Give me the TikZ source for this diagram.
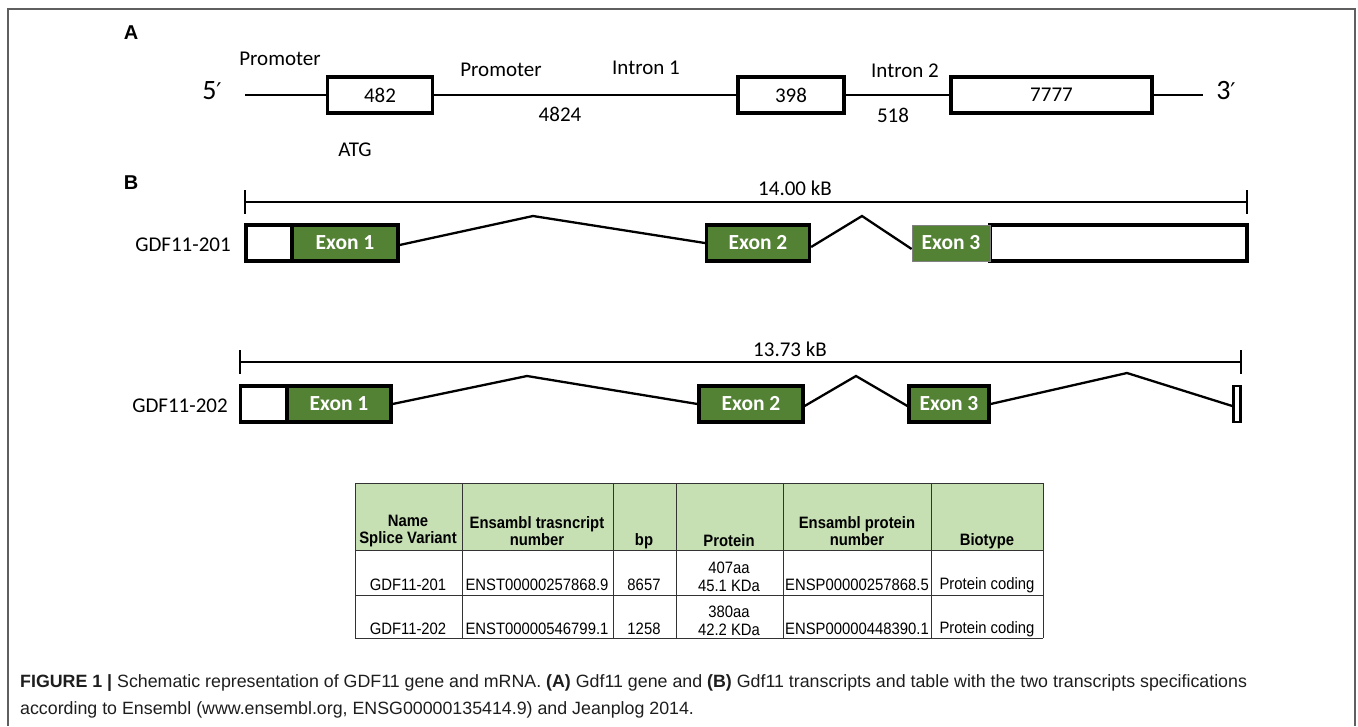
\documentclass[tikz,border=0pt]{standalone}
\usepackage{fontspec}
\setmainfont{Carlito}
\newfontfamily\arial{Liberation Sans}
\newfontfamily\arialn[FakeStretch=0.9]{Liberation Sans}
\newfontfamily\dejavu{DejaVu Sans}
\usetikzlibrary{calc}
\definecolor{exgreen}{RGB}{84,130,53}
\definecolor{hdrgreen}{RGB}{198,224,180}
\definecolor{framegray}{RGB}{95,95,95}
\definecolor{captext}{RGB}{30,30,30}
\tikzset{
  panellbl/.style={font=\arial\bfseries\fontsize{20}{20}\selectfont, inner sep=0},
  lbl/.style={font=\fontsize{21}{21}\selectfont, inner sep=0},
  genebox/.style={draw, line width=3.2pt, fill=white, font=\fontsize{21}{21}\selectfont, minimum height=36},
  exon/.style={draw, line width=3.2pt, fill=exgreen, text=white, font=\bfseries\fontsize{21.5}{21.5}\selectfont, minimum height=36},
  exonthin/.style={draw=gray, line width=0.8pt, fill=exgreen, text=white, font=\bfseries\fontsize{21.5}{21.5}\selectfont, minimum height=36},
  utr/.style={draw, line width=3.2pt, fill=white, minimum height=36},
  intron/.style={line width=2.3pt},
  gline/.style={line width=2.3pt},
  bar/.style={line width=2.3pt},
  tbl/.style={font=\arialn\fontsize{16.5}{17.5}\selectfont, inner sep=0, align=center},
  tblh/.style={font=\arialn\bfseries\fontsize{16.5}{17.5}\selectfont, inner sep=0, align=center},
  tline/.style={line width=1pt, draw=black!80},
  captxt/.style={font=\arial\fontsize{17.8}{17.8}\selectfont, inner sep=0, anchor=base west, text=captext}
}
\begin{document}
\begin{tikzpicture}[x=1pt,y=-1pt]
\useasboundingbox (0,0) rectangle (1358,726);
\fill[white] (0,0) rectangle (1358,726);
\draw[framegray, line width=1.5pt] (8,726) -- (8,9) -- (1355,9) -- (1355,726);

% ---------------- Panel A ----------------
\node[panellbl] (A) at (131,33) {A};
\node[font=\fontsize{28}{28}\selectfont, inner sep=0] (five) at (212,91) {5{\dejavu\fontsize{23}{23}\selectfont ′}};
\coordinate (a0) at (245,95);
\node[genebox, minimum width=105] (g1) at (380,95) {482};
\node[genebox, minimum width=106] (g2) at (791,95) {398};
\node[genebox, minimum width=201] (g3) at (1051.5,95) {7777};
\coordinate (a1) at (1203,95);
\node[font=\fontsize{28}{28}\selectfont, inner sep=0] (three) at (1226,91) {3{\dejavu\fontsize{23}{23}\selectfont ′}};
\draw[gline] (a0) -- (g1.west);
\draw[gline] (g1.east) -- (g2.west);
\draw[gline] (g2.east) -- (g3.west);
\draw[gline] (g3.east) -- (a1);
\node[lbl] (prom1) at (280,59) {Promoter};
\node[lbl] (prom2) at (501,70) {Promoter};
\node[lbl] (int1) at (646,68) {Intron 1};
\node[lbl] (n4824) at (560,114) {4824};
\node[lbl] (atg) at (355,150) {ATG};
\node[lbl] (int2) at (905,71) {Intron 2};
\node[lbl] (n518) at (893,115) {518};

% ---------------- Panel B ----------------
\node[panellbl] (B) at (131,183) {B};
% scale bar 1
\coordinate (s1l) at (245,202);
\coordinate (s1r) at (1247,202);
\draw[bar] (s1l) -- (s1r);
\draw[bar] ($(s1l)+(0,-12)$) -- ($(s1l)+(0,12)$);
\draw[bar] ($(s1r)+(0,-12)$) -- ($(s1r)+(0,12)$);
\node[lbl] (kb1) at (795,188) {14.00 kB};
% transcript 201
\node[lbl] (t201) at (183,245) {GDF11-201};
\node[utr, minimum width=46] (u11) at (269,243) {};
\node[exon, minimum width=106] (x11) at (345,243) {Exon 1};
\node[exon, minimum width=103] (x12) at (758,243) {Exon 2};
\node[utr, minimum width=257] (u13) at (1118.5,243) {};
\node[exonthin, minimum width=78] (x13) at (951,243) {Exon 3};
\coordinate (p11) at (533,216);
\coordinate (p12) at (862,216);
\draw[intron] ($(x11.east)+(0,2)$) -- (p11) -- (x12.west);
\draw[intron] ($(x12.east)+(0,4)$) -- (p12) -- ($(x13.west)+(0,6)$);

% scale bar 2
\coordinate (s2l) at (240,362);
\coordinate (s2r) at (1241,362);
\draw[bar] (s2l) -- (s2r);
\draw[bar] ($(s2l)+(0,-12)$) -- ($(s2l)+(0,12)$);
\draw[bar] ($(s2r)+(0,-12)$) -- ($(s2r)+(0,12)$);
\node[lbl] (kb2) at (790,349) {13.73 kB};
% transcript 202
\node[lbl] (t202) at (180,406) {GDF11-202};
\node[utr, minimum width=47] (u21) at (264,404) {};
\node[exon, minimum width=104] (x21) at (339,404) {Exon 1};
\node[exon, minimum width=104] (x22) at (751,404) {Exon 2};
\node[exon, minimum width=80] (x23) at (949,404) {Exon 3};
\node[utr, minimum width=6, line width=2.8pt] (u24) at (1237,404) {};
\coordinate (p21) at (527,376);
\coordinate (p22) at (856,376);
\coordinate (p23) at (1127,373);
\draw[intron] (x21.east) -- (p21) -- (x22.west);
\draw[intron] ($(x22.east)+(0,2)$) -- (p22) -- ($(x23.west)+(0,2)$);
\draw[intron] (x23.east) -- (p23) -- ($(u24.west)+(0,2)$);

% ---------------- Table ----------------
\fill[hdrgreen] (355,483) rectangle (1043,550);
\foreach \yy in {483,550,595,638} { \draw[tline] (355,\yy) -- (1043,\yy); }
\foreach \xx in {355,462,613,676,783,931,1043} { \draw[tline] (\xx,483) -- (\xx,638); }
% header
\node[tblh] (h1) at (408,531) {Name\\Splice Variant};
\node[tblh] (h2) at (537,531) {Ensambl trasncript\\number};
\node[tblh] (h3) at (644,541) {bp};
\node[tblh] (h4) at (729,541) {Protein};
\node[tblh] (h5) at (857,531) {Ensambl protein\\number};
\node[tblh] (h6) at (987,541) {Biotype};
% row 1
\node[tbl] (r11) at (408,585) {GDF11-201};
\node[tbl] (r12) at (537,585) {ENST00000257868.9};
\node[tbl] (r13) at (644,585) {8657};
\node[tbl] (r14) at (729,577) {407aa\\45.1 KDa};
\node[tbl] (r15) at (857,585) {ENSP00000257868.5};
\node[tbl] (r16) at (987,585) {Protein coding};
% row 2
\node[tbl] (r21) at (408,629) {GDF11-202};
\node[tbl] (r22) at (537,629) {ENST00000546799.1};
\node[tbl] (r23) at (644,629) {1258};
\node[tbl] (r24) at (729,621) {380aa\\42.2 KDa};
\node[tbl] (r25) at (857,629) {ENSP00000448390.1};
\node[tbl] (r26) at (987,629) {Protein coding};

% ---------------- Caption ----------------
\node[captxt] (c1) at (20,687) {\textbf{FIGURE 1 |} Schematic representation of GDF11 gene and mRNA. \textbf{(A)} Gdf11 gene and \textbf{(B)} Gdf11 transcripts and table with the two transcripts specifications};
\node[captxt] (c2) at (20,714) {according to Ensembl (www.ensembl.org, ENSG00000135414.9) and Jeanplog 2014.};
\end{tikzpicture}
\end{document}
